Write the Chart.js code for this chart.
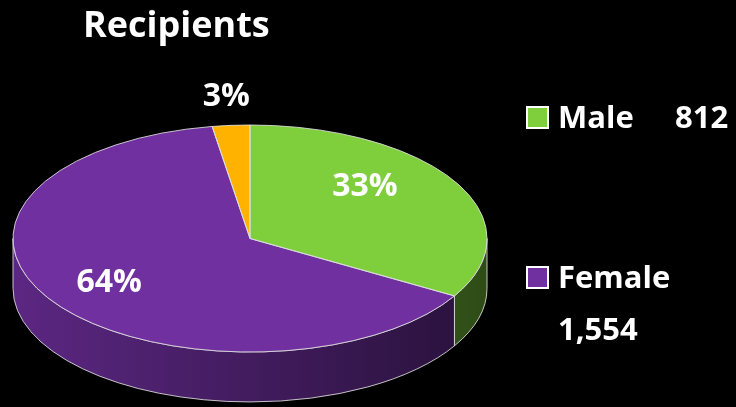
<!doctype html>
<html lang="en">
<head>
<meta charset="UTF-8">
<title>Recipients</title>
<script src="https://cdn.jsdelivr.net/npm/chart.js"></script>
<style>
html,body{margin:0;padding:0;background:#000;}
#wrap{width:736px;height:407px;}
</style>
</head>
<body>
<div id="wrap"><canvas id="chart" width="736" height="407"></canvas></div>
<script>
/* ---------- data ---------- */
const categories   = ["Male", "Female", "Other"];
const recipients   = [812, 1554, 62];          // 3rd slice has no legend entry (~3%)
const legendNames  = ["Male", "Female"];
const legendValues = ["812", "1,554"];
const sliceColors  = ["#7fcf3d", "#7030a0", "#ffb300"];

/* ---------- look ---------- */
const FONT  = "'Open Sans', sans-serif";
const RIM   = "rgba(225,225,225,0.85)";
const DEPTH = 0.44;                             // side height as share of vertical radius
const labelNudge = [[-29, -12], [-4, 0], [0, 0]]; // px, mimic Excel's 3D label placement

const shade = (hex, f) => {
  const n = parseInt(hex.slice(1), 16);
  return `rgb(${Math.round((n >> 16 & 255) * f)},${Math.round((n >> 8 & 255) * f)},${Math.round((n & 255) * f)})`;
};

/* ---------- fake 3D: squash pie + draw side walls ---------- */
const pie3d = {
  id: "pie3d",
  beforeDatasetsDraw(chart) {
    const ctx = chart.ctx, area = chart.chartArea;
    const arcs = chart.getDatasetMeta(0).data;
    const {x: cx, y: cy, outerRadius: ry} = arcs[0];
    const rx = area.width / 2, depth = ry * DEPTH;
    arcs.forEach((arc, i) => {
      const lo = Math.max(arc.startAngle, 0), hi = Math.min(arc.endAngle, Math.PI);
      if (hi <= lo) return;
      const g = ctx.createLinearGradient(cx - rx, 0, cx + rx, 0);
      g.addColorStop(0, shade(sliceColors[i], 0.82));
      g.addColorStop(1, shade(sliceColors[i], 0.36));
      ctx.beginPath();
      ctx.ellipse(cx, cy, rx, ry, 0, lo, hi);
      ctx.ellipse(cx, cy + depth, rx, ry, 0, hi, lo, true);
      ctx.closePath();
      ctx.fillStyle = g;
      ctx.fill();
      ctx.strokeStyle = RIM;
      ctx.lineWidth = 1;
      ctx.stroke();
    });
    // stretch the round pie into an ellipse for the top face
    ctx.save();
    ctx.translate(cx, cy);
    ctx.scale(rx / ry, 1);
    ctx.translate(-cx, -cy);
  },
  afterDatasetsDraw(chart) {
    const ctx = chart.ctx, area = chart.chartArea;
    ctx.restore();
    const arcs = chart.getDatasetMeta(0).data;
    const {x: cx, y: cy, outerRadius: ry} = arcs[0];
    const rx = area.width / 2;
    const total = recipients.reduce((a, b) => a + b, 0);
    ctx.save();
    arcs.forEach(arc => {
      ctx.beginPath();
      ctx.moveTo(cx, cy);
      ctx.ellipse(cx, cy, rx, ry, 0, arc.startAngle, arc.endAngle);
      ctx.closePath();
      ctx.strokeStyle = RIM;
      ctx.lineWidth = 1;
      ctx.stroke();
    });
    // percentage labels
    ctx.fillStyle = "#fff";
    ctx.font = `bold 32px ${FONT}`;
    ctx.textAlign = "center";
    ctx.textBaseline = "middle";
    arcs.forEach((arc, i) => {
      const pct = Math.round(recipients[i] / total * 100);
      const mid = (arc.startAngle + arc.endAngle) / 2;
      const f = pct < 5 ? 1.25 : 0.7;
      ctx.fillText(pct + "%",
        cx + rx * f * Math.cos(mid) + labelNudge[i][0],
        cy + ry * f * Math.sin(mid) + labelNudge[i][1]);
    });
    ctx.restore();
  },
  afterDraw(chart) {
    const ctx = chart.ctx;
    ctx.save();
    ctx.fillStyle = "#fff";
    ctx.textBaseline = "alphabetic";
    ctx.textAlign = "left";
    ctx.font = `bold 36px ${FONT}`;
    ctx.fillText("Recipients", 83, 37);

    // legend
    ctx.font = `bold 31px ${FONT}`;
    const boxY = [107, 267];
    legendNames.forEach((name, i) => {
      ctx.fillStyle = sliceColors[i];
      ctx.fillRect(527, boxY[i], 21, 21);
      ctx.strokeStyle = "#fff";
      ctx.lineWidth = 2;
      ctx.strokeRect(527, boxY[i], 21, 21);
      ctx.fillStyle = "#fff";
      ctx.fillText(name, 558, boxY[i] + 21);
    });
    ctx.fillText(legendValues[0], 675, 128);
    ctx.fillText(legendValues[1], 558, 340);
    ctx.restore();
  }
};

new Chart(document.getElementById("chart"), {
  type: "pie",
  data: {
    labels: categories,
    datasets: [{ data: recipients, backgroundColor: sliceColors, borderWidth: 0 }]
  },
  options: {
    responsive: false,
    animation: false,
    devicePixelRatio: 1,
    events: [],
    layout: { padding: { left: 13, right: 249, top: 125, bottom: 55 } },
    plugins: { legend: { display: false }, title: { display: false }, tooltip: { enabled: false } }
  },
  plugins: [pie3d]
});
</script>
</body>
</html>
